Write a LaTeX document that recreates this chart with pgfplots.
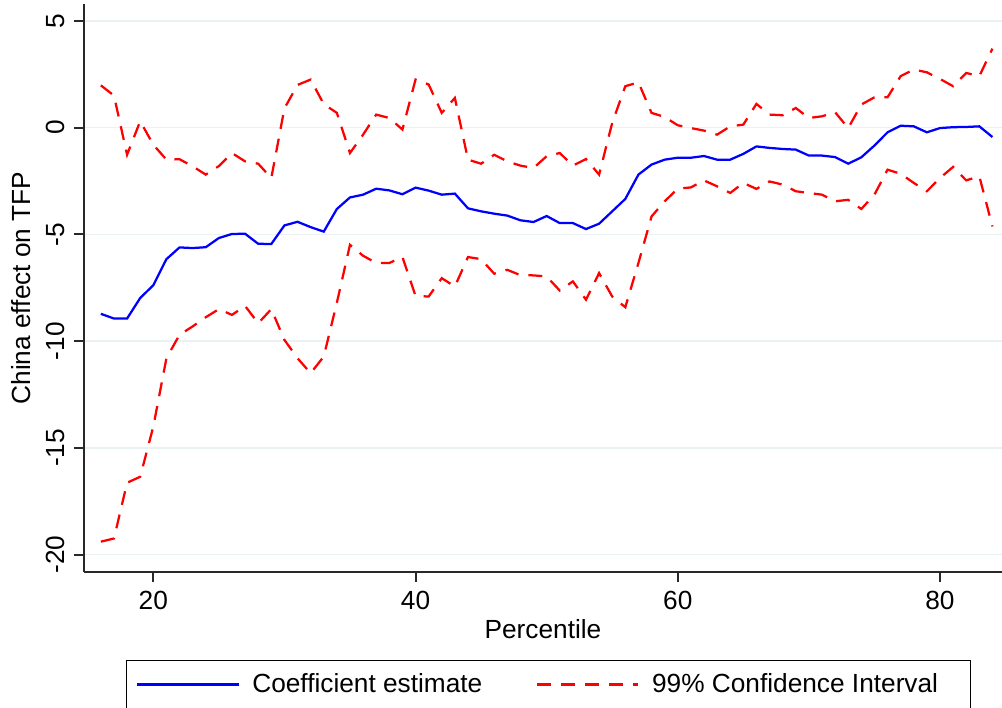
\documentclass[border=0pt]{standalone}
\usepackage{pgfplots}
\pgfplotsset{compat=1.18}
\usepackage{pgfplotstable}
\usetikzlibrary{calc}
\usepackage{fontspec}
\setmainfont{Liberation Sans}
\definecolor{gridc}{RGB}{234,242,243}
\definecolor{axc}{RGB}{40,40,40}

\pgfplotstableread{
x y
16 -8.72
17 -8.94
18 -8.94
19 -7.98
20 -7.38
21 -6.16
22 -5.61
23 -5.64
24 -5.60
25 -5.17
26 -4.98
27 -4.97
28 -5.44
29 -5.45
30 -4.58
31 -4.41
32 -4.66
33 -4.87
34 -3.81
35 -3.27
36 -3.14
37 -2.86
38 -2.94
39 -3.12
40 -2.81
41 -2.95
42 -3.14
43 -3.09
44 -3.78
45 -3.92
46 -4.03
47 -4.12
48 -4.34
49 -4.42
50 -4.14
51 -4.47
52 -4.47
53 -4.75
54 -4.50
55 -3.92
56 -3.34
57 -2.20
58 -1.73
59 -1.50
60 -1.41
61 -1.41
62 -1.33
63 -1.50
64 -1.50
65 -1.23
66 -0.88
67 -0.95
68 -1.00
69 -1.03
70 -1.31
71 -1.31
72 -1.38
73 -1.69
74 -1.39
75 -0.84
76 -0.22
77 0.09
78 0.06
79 -0.22
80 -0.02
81 0.02
82 0.03
83 0.06
84 -0.44
}\coefdata

\pgfplotstableread{
x y
16 1.98
17 1.50
18 -1.27
19 0.30
20 -0.80
21 -1.50
22 -1.48
23 -1.81
24 -2.20
25 -1.80
26 -1.19
27 -1.58
28 -1.69
29 -2.36
30 0.90
31 2.00
32 2.25
33 1.10
34 0.69
35 -1.19
36 -0.33
37 0.61
38 0.45
39 -0.09
40 2.25
41 2.02
42 0.69
43 1.39
44 -1.50
45 -1.69
46 -1.27
47 -1.58
48 -1.78
49 -1.89
50 -1.34
51 -1.19
52 -1.78
53 -1.47
54 -2.20
55 0.22
56 1.94
57 2.12
58 0.69
59 0.50
60 0.11
61 -0.02
62 -0.14
63 -0.33
64 0.06
65 0.14
66 1.11
67 0.61
68 0.58
69 0.92
70 0.45
71 0.53
72 0.72
73 -0.02
74 1.08
75 1.42
76 1.42
77 2.41
78 2.72
79 2.59
80 2.28
81 1.94
82 2.56
83 2.41
84 3.70
}\upperci

\pgfplotstableread{
x y
16 -19.39
17 -19.24
18 -16.63
19 -16.35
20 -14.00
21 -10.80
22 -9.70
23 -9.31
24 -8.88
25 -8.50
26 -8.77
27 -8.35
28 -9.16
29 -8.50
30 -9.94
31 -10.80
32 -11.50
33 -10.72
34 -8.20
35 -5.49
36 -6.00
37 -6.34
38 -6.34
39 -6.06
40 -7.88
41 -7.91
42 -7.05
43 -7.44
44 -6.06
45 -6.16
46 -6.84
47 -6.66
48 -6.91
49 -6.92
50 -6.97
51 -7.63
52 -7.20
53 -8.06
54 -6.81
55 -7.91
56 -8.41
57 -6.34
58 -4.16
59 -3.45
60 -2.86
61 -2.80
62 -2.47
63 -2.75
64 -3.06
65 -2.59
66 -2.87
67 -2.52
68 -2.67
69 -2.98
70 -3.06
71 -3.14
72 -3.45
73 -3.38
74 -3.81
75 -3.14
76 -1.97
77 -2.16
78 -2.59
79 -2.98
80 -2.36
81 -1.84
82 -2.47
83 -2.28
84 -4.63
}\lowerci

\begin{document}
\begin{tikzpicture}
\begin{axis}[
  scale only axis,
  width=367.2pt, height=227.2pt,
  xmin=14.714, xmax=84.73,
  ymin=-20.81, ymax=5.79,
  axis x line*=bottom, axis y line*=left,
  axis line style={color=axc, line width=0.8pt},
  xtick={20,40,60,80}, xticklabels={20,40,60,80},
  ytick={-20,-15,-10,-5,0,5}, yticklabels={-20,-15,-10,-5,0,5},
  tick align=outside,
  major tick length=4pt,
  tick style={color=axc, line width=0.8pt},
  ymajorgrids,
  major grid style={color=gridc, line width=0.6pt},
  every tick label/.append style={font=\fontsize{10.5}{12}\selectfont, color=black},
  yticklabel style={rotate=90, anchor=south},
  xlabel={Percentile},
  ylabel={China effect on TFP},
  xlabel style={font=\fontsize{10.5}{12}\selectfont, at={(axis description cs:0.5,-0.0687)}, anchor=north},
  ylabel style={font=\fontsize{10.5}{12}\selectfont, at={(axis description cs:-0.0479,0.5)}, anchor=south, rotate=0},
  legend columns=2,
  legend cell align=left,
  legend image code/.code={\draw[#1] (0pt,0pt) -- (40.5pt,0pt);},
  legend style={at={(axis description cs:0.0454,-0.155)}, anchor=north west,
    draw=black, line width=0.5pt, font=\fontsize{10.5}{12}\selectfont,
    inner xsep=4pt, inner ysep=3pt,
    /tikz/every even column/.append style={column sep=19.5pt},
    /tikz/every odd column/.append style={column sep=3pt}},
]
\addplot[color=blue, line width=0.9pt] table[x=x,y=y] {\coefdata};
\addlegendentry{Coefficient estimate}
\addplot[color=red, line width=0.9pt, dash pattern=on 5.6pt off 4pt] table[x=x,y=y] {\upperci};
\addlegendentry{99\% Confidence Interval\kern 7pt\null}
\addplot[color=red, line width=0.9pt, dash pattern=on 5.6pt off 4pt, forget plot] table[x=x,y=y] {\lowerci};
\coordinate (sw) at (rel axis cs:0,0);
\coordinate (ne) at (rel axis cs:1,1);
\end{axis}
\pgfresetboundingbox
\path ($(sw)+(-33.6pt,-54.4pt)$) rectangle ($(ne)+(0pt,1.6pt)$);
\end{tikzpicture}
\end{document}
